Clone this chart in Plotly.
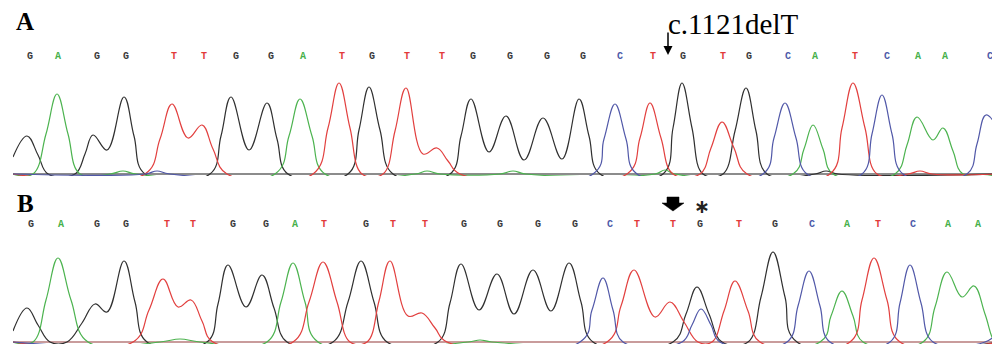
import plotly.graph_objects as go

# ---------------- base calls ----------------
A_bases = list("GAGGTTGGATGTTGGGGCTGTGCATCAAC")
A_base_x = [30, 58, 97, 126, 174, 204, 236, 271, 303, 342, 372, 407, 442, 473, 510,
            547, 583, 620, 653, 683, 723, 749, 788, 815, 855, 887, 918, 945, 990]
B_bases = list("GAGGTTGGATGTTGGGGCTTGTGCATCAA")
B_base_x = [31, 61, 97, 126, 167, 193, 233, 266, 295, 324, 366, 393, 425, 464, 500,
            538, 575, 610, 637, 673, 700, 739, 775, 812, 847, 878, 913, 948, 978]

# ---------------- trace key points (scan position, signal) ----------------
# Panel A (wild type)
A_G_x = [13, 27, 38, 48, 75, 85, 93, 107, 124, 134, 145, 210, 221, 231, 249, 267, 277, 288,
         348, 359, 369, 380, 393, 450, 461, 471, 489, 506, 524, 543, 562, 579, 589, 600,
         663, 673, 682, 692, 703, 723, 735, 746, 756, 767, 815, 826, 838, 1000]
A_G_y = [17, 38, 19, 0, 0, 20, 39, 24, 77, 38, 0, 0, 38, 77, 24, 71, 35, 0,
         0, 44, 87, 44, 0, 0, 38, 75, 22, 58, 14, 56, 15, 75, 38, 0,
         0, 46, 91, 46, 0, 0, 43, 86, 43, 0, 0, 3, 0, 0]
A_A_x = [13, 33, 46, 57, 68, 80, 110, 123, 136, 275, 289, 300, 312, 325, 415, 427, 440,
         500, 513, 526, 655, 665, 675, 793, 804, 813, 823, 833, 895, 907, 917, 933, 943,
         953, 963, 1000]
A_A_y = [0, 0, 40, 80, 40, 0, 0, 3, 0, 0, 38, 75, 38, 0, 0, 3, 0,
         0, 3, 0, 0, 4, 0, 0, 25, 49, 25, 0, 0, 29, 57, 34, 46,
         23, 0, 0]
A_T_x = [13, 145, 160, 172, 188, 202, 213, 227, 313, 328, 339, 350, 362, 383, 395, 406,
         423, 437, 448, 460, 627, 640, 650, 661, 673, 700, 711, 722, 734, 747, 830, 842,
         853, 865, 877, 908, 920, 932, 1000]
A_T_y = [0, 0, 35, 70, 36, 49, 25, 0, 0, 46, 91, 46, 0, 0, 43, 86,
         20, 26, 13, 0, 0, 36, 71, 36, 0, 0, 26, 52, 26, 0, 0, 46,
         91, 46, 0, 0, 3, 0, 0]
A_C_x = [13, 145, 157, 170, 593, 604, 615, 626, 637, 763, 774, 785, 796, 807,
         862, 872, 882, 892, 903, 967, 977, 986, 1000]
A_C_y = [0, 0, 3, 0, 0, 35, 70, 35, 0, 0, 36, 71, 36, 0,
         0, 40, 79, 40, 0, 0, 30, 59, 42]

# Panel B (patient, c.1121delT)
B_G_x = [13, 27, 38, 50, 67, 82, 95, 107, 124, 135, 147, 207, 218, 228, 246, 262, 274, 287,
         333, 348, 361, 374, 387, 438, 450, 461, 479, 497, 514, 533, 551, 569, 581, 593,
         673, 686, 697, 709, 722, 748, 761, 773, 785, 797, 1000]
B_G_y = [11, 34, 17, 0, 0, 19, 38, 30, 81, 40, 0, 0, 38, 77, 35, 67, 34, 0,
         0, 40, 81, 40, 0, 0, 39, 78, 32, 68, 28, 72, 31, 79, 40, 0,
         0, 28, 55, 28, 0, 0, 45, 90, 45, 0, 0]
B_A_x = [13, 33, 46, 58, 71, 88, 160, 180, 200, 267, 281, 293, 305, 318, 468, 480, 492,
         820, 831, 842, 853, 863, 923, 935, 947, 962, 974, 985, 995, 1000]
B_A_y = [0, 0, 42, 84, 42, 0, 0, 3, 0, 0, 40, 79, 40, 0, 0, 2, 0,
         0, 26, 51, 26, 0, 0, 35, 70, 45, 56, 28, 0, 0]
B_T_x = [13, 133, 149, 163, 178, 191, 202, 213, 293, 309, 323, 337, 350, 367, 379, 390,
         408, 422, 435, 447, 607, 621, 634, 655, 670, 684, 698, 712, 724, 735, 748, 760,
         850, 862, 874, 887, 900, 1000]
B_T_y = [0, 0, 32, 63, 35, 42, 21, 0, 0, 40, 80, 40, 0, 0, 41, 81,
         26, 29, 14, 0, 0, 36, 72, 25, 40, 20, 0, 0, 31, 61, 31, 0,
         0, 42, 84, 42, 0, 0]
B_C_x = [13, 580, 592, 603, 613, 623, 682, 692, 701, 711, 720, 787, 798, 809, 820, 830,
         890, 900, 910, 921, 933, 985, 1000]
B_C_y = [0, 0, 32, 64, 32, 0, 0, 17, 33, 17, 0, 0, 36, 71, 36, 0,
         0, 39, 77, 39, 0, 0, 12]

LINE_COL = {"G": "#303030", "A": "#4cb34f", "T": "#e2403f", "C": "#5158a8"}
TEXT_COL = {"G": "#3a3a3a", "A": "#46b04a", "T": "#e23a3a", "C": "#4a58a8"}

# the page places the figure 8 px in from the top-left corner
OFF = 8
W, H = 1000 - OFF, 344 - OFF
def px(x):
    return (x - OFF) / W
def py(y):
    return 1 - (y - OFF) / H

fig = go.Figure()

panels = [
    ("x", "y", [("G", A_G_x, A_G_y), ("A", A_A_x, A_A_y), ("T", A_T_x, A_T_y), ("C", A_C_x, A_C_y)],
     A_bases, A_base_x),
    ("x2", "y2", [("G", B_G_x, B_G_y), ("A", B_A_x, B_A_y), ("T", B_T_x, B_T_y), ("C", B_C_x, B_C_y)],
     B_bases, B_base_x),
]
for xa, ya, chans, bases, bx in panels:
    for base, xs, ys in chans:
        fig.add_trace(go.Scatter(x=xs, y=ys, mode="lines", xaxis=xa, yaxis=ya,
                                 line=dict(color=LINE_COL[base], width=1.2, shape="spline", smoothing=1.15),
                                 hoverinfo="skip", showlegend=False))
    fig.add_trace(go.Scatter(x=bx, y=[118] * len(bx), mode="text",
                             text=[f"<b>{b}</b>" for b in bases], xaxis=xa, yaxis=ya,
                             textfont=dict(family="Liberation Mono", size=10,
                                           color=[TEXT_COL[b] for b in bases]),
                             textposition="middle center", cliponaxis=False,
                             hoverinfo="skip", showlegend=False))

axis_x = dict(range=[13, 1000], domain=[px(13), 1], visible=False, fixedrange=True)
fig.update_layout(
    width=W, height=H,
    margin=dict(l=0, r=0, t=0, b=0),
    paper_bgcolor="white", plot_bgcolor="white",
    xaxis=dict(axis_x, anchor="y"),
    xaxis2=dict(axis_x, anchor="y2"),
    yaxis=dict(range=[-2, 130], domain=[py(176), py(44)], anchor="x",
               showgrid=False, showticklabels=False, ticks="", showline=False,
               zeroline=True, zerolinecolor="#8c8c8c", zerolinewidth=1.5, layer="above traces"),
    yaxis2=dict(range=[-2, 130], domain=[py(344), py(212)], anchor="x2",
                showgrid=False, showticklabels=False, ticks="", showline=False,
                zeroline=True, zerolinecolor="#c99c9c", zerolinewidth=1.5, layer="above traces"),
    showlegend=False,
)

serif = "Liberation Serif"
fig.add_annotation(x=px(25), y=py(21.5), xref="paper", yref="paper", text="<b>A</b>",
                   showarrow=False, font=dict(family=serif, size=25, color="black"),
                   xanchor="center", yanchor="middle")
fig.add_annotation(x=px(25), y=py(203.5), xref="paper", yref="paper", text="<b>B</b>",
                   showarrow=False, font=dict(family=serif, size=25, color="black"),
                   xanchor="center", yanchor="middle")
fig.add_annotation(x=px(666), y=py(24), xref="paper", yref="paper", text="c.1121delT",
                   showarrow=False, font=dict(family=serif, size=29, color="black"),
                   xanchor="left", yanchor="middle")
# thin arrow (panel A)
fig.add_annotation(x=px(668), y=py(55), xref="paper", yref="paper", text="",
                   showarrow=True, arrowhead=2, arrowsize=1.2, arrowwidth=1.5,
                   arrowcolor="black", ax=0, ay=-24)
# block arrow (panel B)
p = [(667, 197), (679, 197), (679, 203), (684, 203), (673, 211), (662, 203), (667, 203)]
path = "M " + " L ".join(f"{px(a):.5f},{py(b):.5f}" for a, b in p) + " Z"
fig.add_shape(type="path", path=path, xref="paper", yref="paper",
              fillcolor="black", line=dict(color="black", width=0.5))
fig.add_annotation(x=px(702), y=py(206), xref="paper", yref="paper", text="<b>\u2217</b>",
                   showarrow=False, font=dict(family="DejaVu Sans", size=19, color="#222"),
                   xanchor="center", yanchor="middle")

fig.write_html("out.html")
